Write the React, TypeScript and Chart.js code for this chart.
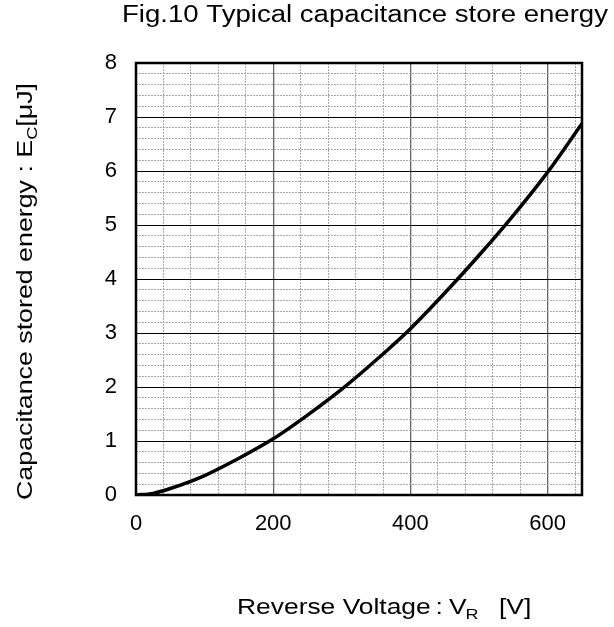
import React, { useEffect, useRef } from "react";
import { Chart, registerables } from "chart.js";

Chart.register(...registerables);

// ---- Data ----
const voltage = [0, 25, 50, 100, 150, 200, 250, 300, 350, 400, 450, 500, 550, 600, 650];
const energy = [0, 0.03, 0.12, 0.36, 0.68, 1.04, 1.48, 1.96, 2.5, 3.08, 3.74, 4.44, 5.18, 5.98, 6.88];

const xMajorTicks = [0, 200, 400, 600];
const yMajorTicks = [0, 1, 2, 3, 4, 5, 6, 7, 8];
const xMin = 0;
const xMax = 650;
const xMinorStep = 40;
const yMin = 0;
const yMax = 8;
const yMinorStep = 0.2;

const titleText = "Fig.10 Typical capacitance store energy";
const xTitleParts = [
  { t: "Reverse Voltage", sub: false },
  { t: ":", sub: false },
  { t: "V", sub: false },
  { t: "R", sub: true },
  { t: "[V]", sub: false },
];
const yTitleParts = [
  { t: "Capacitance stored energy : E", sub: false },
  { t: "C", sub: true },
  { t: "[μJ]", sub: false },
];

const FONT = '"Liberation Sans", Arial, sans-serif';

const near = (v: number, list: number[]) => list.some((m) => Math.abs(v - m) < 1e-6);

function drawStretched(
  ctx: CanvasRenderingContext2D,
  text: string,
  size: number,
  x: number,
  y: number,
  stretch: number
) {
  ctx.save();
  ctx.font = `${size}px ${FONT}`;
  ctx.fillStyle = "#000";
  ctx.textAlign = "left";
  ctx.textBaseline = "alphabetic";
  ctx.translate(x, y);
  ctx.scale(stretch, 1);
  ctx.fillText(text, 0, 0);
  ctx.restore();
}

const textPlugin = {
  id: "customText",
  afterDraw(chart: any) {
    const ctx: CanvasRenderingContext2D = chart.ctx;
    const { left, top, right, bottom } = chart.chartArea;

    // plot frame
    ctx.save();
    ctx.strokeStyle = "#000";
    ctx.lineWidth = 2.5;
    ctx.strokeRect(left, top, right - left, bottom - top);
    ctx.restore();

    // chart title (stretched to its width in the reference)
    ctx.save();
    ctx.font = `23px ${FONT}`;
    const tw = ctx.measureText(titleText).width;
    ctx.restore();
    drawStretched(ctx, titleText, 23, 122, 22, 486 / tw);

    // x axis title
    const sx = 1.2;
    const xPos = [237, 435.5, 449, 465.5, 499];
    xTitleParts.forEach((p, i) => {
      drawStretched(ctx, p.t, p.sub ? 15 : 22, xPos[i], p.sub ? 619 : 614, sx);
    });

    // y axis title (rotated)
    ctx.save();
    let natural = 0;
    yTitleParts.forEach((p) => {
      ctx.font = `${p.sub ? 15 : 22}px ${FONT}`;
      natural += ctx.measureText(p.t).width;
    });
    const sy = 417 / natural;
    ctx.translate(32, 500);
    ctx.rotate(-Math.PI / 2);
    ctx.scale(sy, 1);
    ctx.fillStyle = "#000";
    ctx.textAlign = "left";
    ctx.textBaseline = "alphabetic";
    let cx = 0;
    yTitleParts.forEach((p) => {
      ctx.font = `${p.sub ? 15 : 22}px ${FONT}`;
      ctx.fillText(p.t, cx, p.sub ? 5 : 0);
      cx += ctx.measureText(p.t).width;
    });
    ctx.restore();
  },
};

export default function App() {
  const canvasRef = useRef<HTMLCanvasElement | null>(null);

  useEffect(() => {
    if (!canvasRef.current) return;
    const points = voltage.map((v, i) => ({ x: v, y: energy[i] }));
    const chart = new Chart(canvasRef.current, {
      type: "line",
      data: {
        datasets: [
          {
            data: points,
            borderColor: "#000",
            borderWidth: 3.5,
            pointRadius: 0,
            cubicInterpolationMode: "monotone",
            fill: false,
          },
        ],
      },
      options: {
        responsive: false,
        animation: false,
        devicePixelRatio: 1,
        layout: { padding: { top: 63, right: 32, left: 0, bottom: 0 } },
        plugins: {
          legend: { display: false },
          tooltip: { enabled: false },
          title: { display: false },
        },
        scales: {
          x: {
            type: "linear",
            min: xMin,
            max: xMax,
            afterFit: (s: any) => {
              s.height = 132;
            },
            ticks: {
              stepSize: xMinorStep,
              includeBounds: false,
              autoSkip: false,
              maxRotation: 0,
              padding: 16,
              color: "#000",
              font: { family: FONT, size: 22 },
              callback: (v: any) => (near(Number(v), xMajorTicks) ? String(v) : ""),
            },
            grid: {
              drawTicks: false,
              color: (c: any) => (near(c.tick?.value, xMajorTicks) ? "#666666" : "#a8a8a8"),
              lineWidth: (c: any) => (near(c.tick?.value, xMajorTicks) ? 1.3 : 1),
            },
            border: {
              display: false,
              dash: (c: any) => (near(c.tick?.value, xMajorTicks) ? [] : [2, 1]),
            },
          },
          y: {
            type: "linear",
            min: yMin,
            max: yMax,
            afterFit: (s: any) => {
              s.width = 136;
            },
            ticks: {
              stepSize: yMinorStep,
              autoSkip: false,
              padding: 19,
              color: "#000",
              font: { family: FONT, size: 22 },
              callback: (v: any) => (near(Number(v), yMajorTicks) ? String(Math.round(Number(v))) : ""),
            },
            grid: {
              drawTicks: false,
              color: (c: any) => (near(c.tick?.value, yMajorTicks) ? "#000" : "#a8a8a8"),
              lineWidth: 1,
            },
            border: {
              display: false,
              dash: (c: any) => (near(c.tick?.value, yMajorTicks) ? [] : [2, 1]),
            },
          },
        },
      },
      plugins: [textPlugin],
    } as any);
    return () => chart.destroy();
  }, []);

  return (
    <div style={{ position: "absolute", left: 0, top: 0, width: 614, height: 627, background: "#fff" }}>
      <canvas ref={canvasRef} width={614} height={627} style={{ display: "block" }} />
    </div>
  );
}
